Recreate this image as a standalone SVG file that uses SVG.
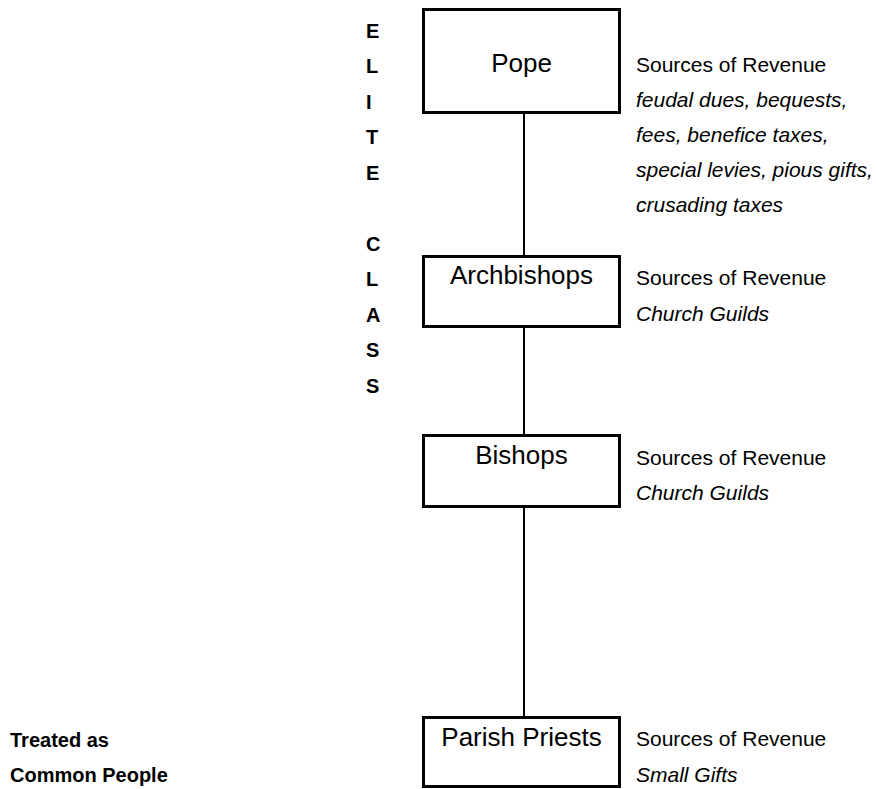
<svg xmlns="http://www.w3.org/2000/svg" width="877" height="789" viewBox="0 0 877 789">
<style>
.box{fill:#fff;stroke:#000;stroke-width:3}
.conn{stroke:#000;stroke-width:2;fill:none}
.title{font-family:"Liberation Sans",Arial,sans-serif;font-size:26px;text-anchor:middle;fill:#000}
.src{font-family:"Liberation Sans",Arial,sans-serif;font-size:21px;fill:#000}
.it{font-style:italic}
.bold{font-family:"Liberation Sans",Arial,sans-serif;font-size:20px;font-weight:bold;fill:#000}
</style>
<rect width="877" height="789" fill="#fff"/>
<g id="connectors">
<line class="conn" x1="524" y1="114" x2="524" y2="256"/>
<line class="conn" x1="524" y1="327" x2="524" y2="435"/>
<line class="conn" x1="524" y1="507" x2="524" y2="717"/>
</g>
<g id="elite-class">
<text class="bold" x="366" y="38">E</text>
<text class="bold" x="366" y="73">L</text>
<text class="bold" x="366" y="108.5">I</text>
<text class="bold" x="366" y="144">T</text>
<text class="bold" x="366" y="179.5">E</text>
<text class="bold" x="366" y="250.5">C</text>
<text class="bold" x="366" y="286">L</text>
<text class="bold" x="366" y="321.5">A</text>
<text class="bold" x="366" y="357">S</text>
<text class="bold" x="366" y="392.5">S</text>
</g>
<g id="common-people">
<text class="bold" x="10" y="746.5">Treated as</text>
<text class="bold" x="10" y="781.5">Common People</text>
</g>
<g id="pope">
<rect class="box" x="423.5" y="9.5" width="196" height="103"/>
<text class="title" x="521.5" y="72">Pope</text>
<text class="src" x="636" y="72">Sources of Revenue</text>
<text class="src it" x="636" y="107">feudal dues, bequests,</text>
<text class="src it" x="636" y="142">fees, benefice taxes,</text>
<text class="src it" x="636" y="177">special levies, pious gifts,</text>
<text class="src it" x="636" y="212">crusading taxes</text>
</g>
<g id="archbishops">
<rect class="box" x="423.5" y="256.5" width="196" height="70"/>
<text class="title" x="521.5" y="284">Archbishops</text>
<text class="src" x="636" y="285">Sources of Revenue</text>
<text class="src it" x="636" y="321">Church Guilds</text>
</g>
<g id="bishops">
<rect class="box" x="423.5" y="435.5" width="196" height="71"/>
<text class="title" x="521.5" y="464">Bishops</text>
<text class="src" x="636" y="465">Sources of Revenue</text>
<text class="src it" x="636" y="500">Church Guilds</text>
</g>
<g id="parish-priests">
<rect class="box" x="423.5" y="717.5" width="196" height="69"/>
<text class="title" x="521.5" y="746">Parish Priests</text>
<text class="src" x="636" y="745.5">Sources of Revenue</text>
<text class="src it" x="636" y="781.5">Small Gifts</text>
</g>
</svg>
